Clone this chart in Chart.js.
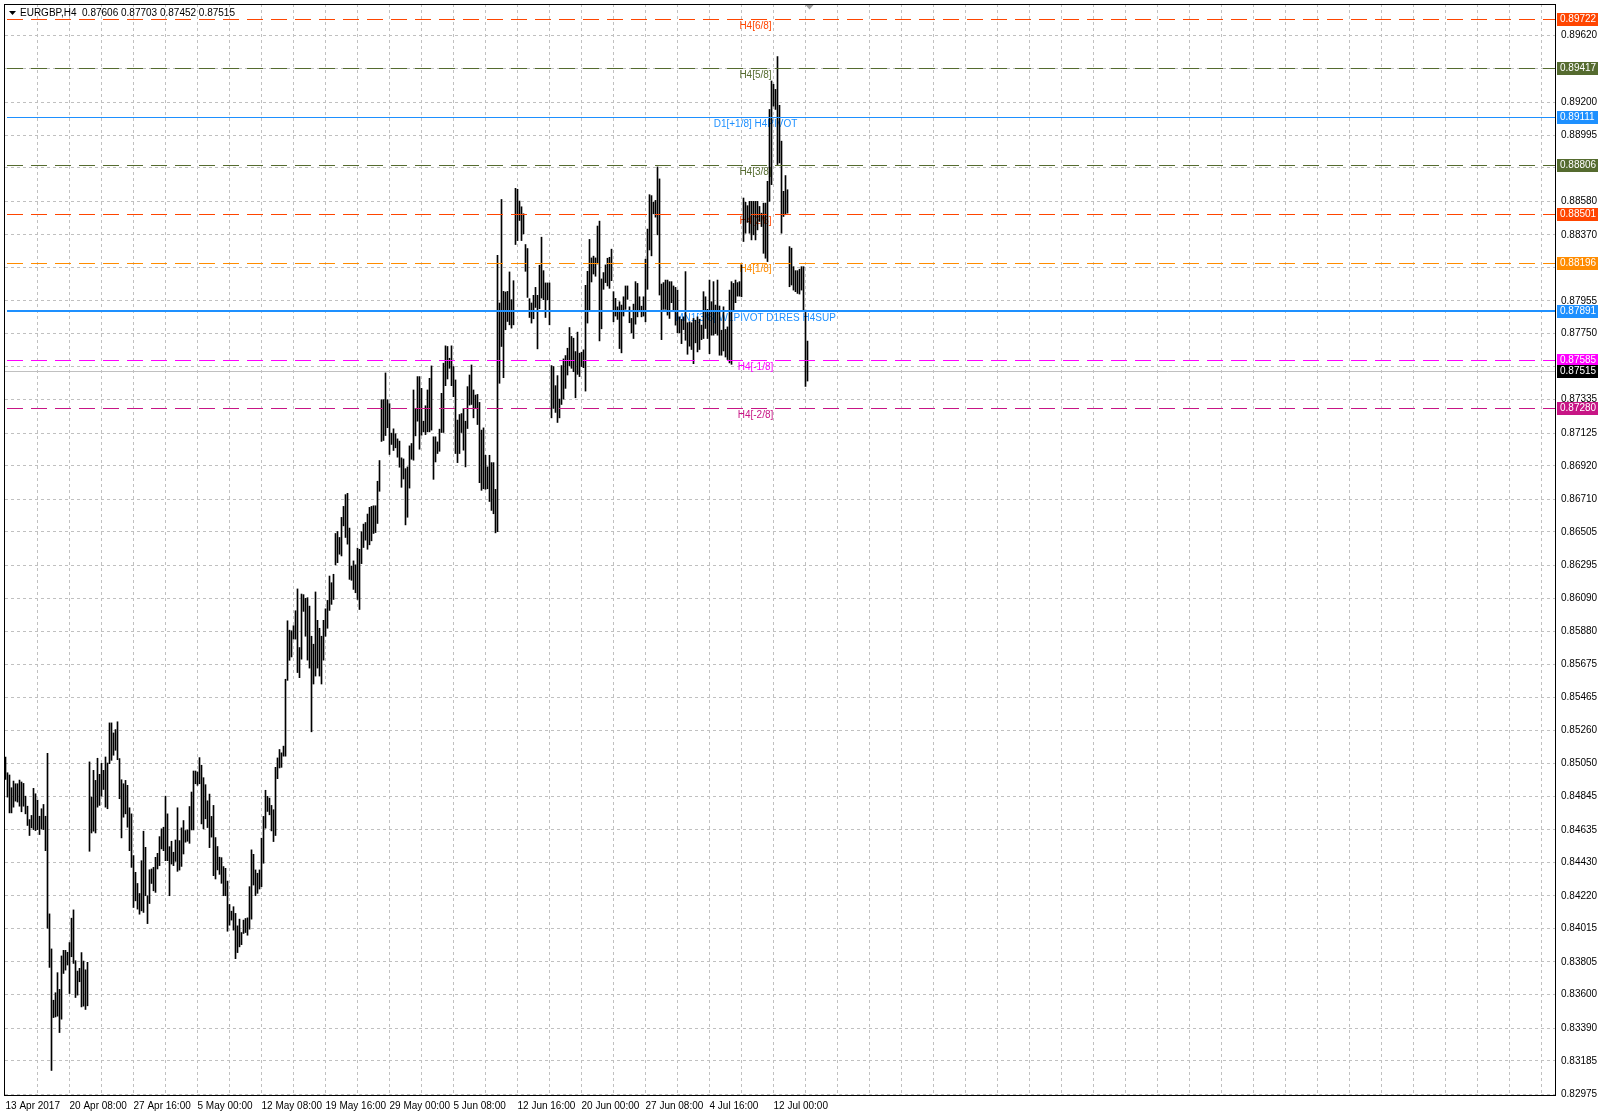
<!DOCTYPE html>
<html><head><meta charset="utf-8">
<script src="https://cdn.jsdelivr.net/npm/chart.js@4.4.1/dist/chart.umd.min.js"></script>
<style>html,body{margin:0;padding:0;background:#fff;overflow:hidden}#wrap{width:1600px;height:1118px}</style>
</head><body><div id="wrap"><canvas id="c" width="1600" height="1118"></canvas></div>
<script>
// ---------- data ----------
const symbolTitle = 'EURGBP,H4';
const lastBarOHLC = ['0.87606', '0.87703', '0.87452', '0.87515'];

const barHighs = [
0.85092,0.84993,0.84979,0.84899,0.84941,0.84924,0.84924,0.84947,0.84935,0.84926,
0.84846,0.84783,0.84699,0.84725,0.84895,0.84861,0.84821,0.84720,0.84767,0.84794,
0.84720,0.85115,0.84107,0.83887,0.83565,0.83612,0.83738,0.83633,0.83843,0.83878,
0.83878,0.83866,0.83927,0.84080,0.84132,0.83813,0.83748,0.83765,0.83864,0.83811,
0.83756,0.83803,0.85061,0.84840,0.85008,0.84945,0.85084,0.84983,0.85052,0.85008,
0.85092,0.85054,0.85306,0.85306,0.85243,0.85264,0.85313,0.85082,0.84949,0.84924,
0.84945,0.84914,0.84773,0.84735,0.84473,0.84368,0.84298,0.84235,0.84441,0.84626,
0.84525,0.84221,0.84384,0.84389,0.84399,0.84462,0.84487,0.84592,0.84641,0.84651,
0.84846,0.84735,0.84529,0.84563,0.84494,0.84571,0.84773,0.84567,0.84647,0.84693,
0.84630,0.84634,0.84781,0.84872,0.85004,0.85004,0.84998,0.85088,0.85040,0.84962,
0.84918,0.84817,0.84859,0.84719,0.84788,0.84586,0.84530,0.84463,0.84460,0.84404,
0.84393,0.84313,0.84166,0.84124,0.84152,0.84110,0.84032,0.84074,0.83990,0.84068,
0.84078,0.84082,0.84278,0.84509,0.84481,0.84383,0.84362,0.84383,0.84582,0.84719,
0.84883,0.84845,0.84834,0.84788,0.84761,0.85027,0.85086,0.85139,0.85118,0.85160,
0.85580,0.85947,0.85888,0.85884,0.85916,0.86010,0.86147,0.85779,0.86115,0.86111,
0.86088,0.86092,0.86039,0.85850,0.85800,0.86128,0.85950,0.85900,0.85850,0.85950,
0.86022,0.86075,0.86228,0.86186,0.86239,0.86495,0.86508,0.86470,0.86596,0.86665,
0.86739,0.86747,0.86529,0.86291,0.86323,0.86298,0.86403,0.86396,0.86506,0.86554,
0.86564,0.86617,0.86659,0.86665,0.86669,0.86669,0.86823,0.86953,0.87335,0.87335,
0.87503,0.87335,0.87310,0.87125,0.87152,0.87121,0.87089,0.87075,0.86970,0.86963,
0.86902,0.86913,0.87045,0.87060,0.87396,0.87280,0.87480,0.87480,0.87406,0.87200,
0.87297,0.87396,0.87469,0.87547,0.87102,0.87102,0.87070,0.87150,0.87375,0.87564,
0.87673,0.87669,0.87595,0.87673,0.87543,0.87459,0.87207,0.87242,0.87248,0.87280,
0.87200,0.87417,0.87490,0.87553,0.87396,0.87364,0.87368,0.87318,0.87144,0.87158,
0.86986,0.86913,0.86986,0.86940,0.86940,0.86772,0.88242,0.87942,0.88592,0.88015,
0.88011,0.88015,0.88137,0.87963,0.88082,0.88662,0.88656,0.88582,0.88546,0.88502,
0.88309,0.88284,0.87969,0.87942,0.87990,0.88040,0.87990,0.88179,0.88355,0.88145,
0.88068,0.88068,0.88068,0.87549,0.87543,0.87423,0.87486,0.87339,0.87549,0.87591,
0.87612,0.87658,0.87788,0.87732,0.87721,0.87637,0.87759,0.87627,0.87633,0.87648,
0.88053,0.88141,0.88341,0.88225,0.88236,0.88225,0.88425,0.88456,0.88093,0.88133,
0.88181,0.88223,0.88229,0.88280,0.88013,0.87971,0.87918,0.87950,0.87929,0.87981,
0.88049,0.88049,0.87918,0.87845,0.87935,0.88076,0.88065,0.87981,0.87922,0.87981,
0.88217,0.88406,0.88622,0.88616,0.88574,0.88586,0.88796,0.88721,0.88061,0.88070,
0.88086,0.88086,0.88076,0.88076,0.88049,0.88040,0.88023,0.87855,0.87839,0.87855,
0.88139,0.87818,0.87824,0.87818,0.87845,0.87834,0.87855,0.87839,0.87803,0.88013,
0.87981,0.87902,0.88086,0.87950,0.88076,0.87929,0.88086,0.87923,0.87771,0.87918,
0.87776,0.87792,0.88023,0.88076,0.88065,0.88086,0.88070,0.88076,0.88181,0.88601,
0.88574,0.88553,0.88580,0.88580,0.88580,0.88580,0.88580,0.88548,0.88506,0.88569,
0.88569,0.88706,0.89157,0.89336,0.89315,0.89283,0.89489,0.89183,0.88958,0.88643,
0.88742,0.88653,0.88296,0.88286,0.88170,0.88145,0.88145,0.88154,0.88170,0.88170,
0.87897,0.87703
];

const barLows = [
0.84951,0.84840,0.84741,0.84741,0.84777,0.84815,0.84809,0.84783,0.84748,0.84783,
0.84735,0.84662,0.84599,0.84647,0.84636,0.84630,0.84636,0.84605,0.84641,0.84636,
0.84504,0.84017,0.83771,0.83124,0.83456,0.83460,0.83465,0.83362,0.83446,0.83733,
0.83754,0.83786,0.83607,0.83838,0.83796,0.83582,0.83597,0.83681,0.83523,0.83528,
0.83507,0.83530,0.84500,0.84615,0.84626,0.84615,0.84777,0.84788,0.84846,0.84888,
0.84777,0.84767,0.85050,0.85071,0.85103,0.85134,0.85075,0.84830,0.84584,0.84714,
0.84735,0.84651,0.84504,0.84399,0.84147,0.84189,0.84137,0.84105,0.84126,0.84116,
0.84221,0.84046,0.84172,0.84298,0.84252,0.84242,0.84389,0.84410,0.84515,0.84504,
0.84441,0.84441,0.84221,0.84420,0.84410,0.84437,0.84374,0.84382,0.84405,0.84483,
0.84557,0.84563,0.84550,0.84634,0.84634,0.84924,0.84914,0.84924,0.84672,0.84641,
0.84704,0.84649,0.84523,0.84589,0.84347,0.84326,0.84383,0.84355,0.84299,0.84221,
0.84221,0.83998,0.84036,0.84068,0.84005,0.83826,0.83864,0.83900,0.83914,0.83984,
0.83990,0.83973,0.84011,0.84074,0.84288,0.84221,0.84236,0.84263,0.84278,0.84425,
0.84645,0.84750,0.84729,0.84628,0.84561,0.84599,0.84956,0.85023,0.85027,0.85097,
0.85097,0.85573,0.85699,0.85720,0.85832,0.85832,0.85622,0.85590,0.85706,0.86006,
0.85850,0.85700,0.85650,0.85250,0.85550,0.85600,0.85650,0.85600,0.85550,0.85700,
0.85850,0.85900,0.86012,0.86050,0.86081,0.86298,0.86312,0.86365,0.86354,0.86543,
0.86470,0.86428,0.86207,0.86201,0.86144,0.86123,0.86081,0.86018,0.86306,0.86407,
0.86453,0.86396,0.86424,0.86449,0.86495,0.86501,0.86558,0.86760,0.87073,0.87079,
0.87110,0.87159,0.86991,0.87054,0.87016,0.87033,0.86974,0.86911,0.86785,0.86837,
0.86549,0.86597,0.86780,0.86961,0.86955,0.87108,0.87200,0.87024,0.87112,0.87133,
0.87116,0.87133,0.87133,0.87144,0.86835,0.86944,0.86997,0.87011,0.87129,0.87129,
0.87423,0.87465,0.87532,0.87423,0.87354,0.86997,0.86940,0.86997,0.87129,0.87018,
0.86913,0.87154,0.87301,0.87305,0.87221,0.87280,0.87179,0.86814,0.86766,0.86776,
0.86772,0.86776,0.86696,0.86640,0.86619,0.86499,0.86507,0.87438,0.87669,0.87473,
0.87774,0.87826,0.87805,0.87784,0.87805,0.88309,0.88334,0.88460,0.88334,0.88376,
0.88141,0.87977,0.87851,0.87816,0.87843,0.87914,0.87654,0.87906,0.87973,0.87963,
0.87851,0.87963,0.87805,0.87221,0.87280,0.87255,0.87192,0.87221,0.87305,0.87339,
0.87406,0.87490,0.87549,0.87532,0.87511,0.87347,0.87494,0.87480,0.87543,0.87536,
0.87389,0.87816,0.87893,0.88074,0.88124,0.88110,0.88187,0.87704,0.87780,0.88028,
0.88070,0.88049,0.88034,0.88082,0.87824,0.87860,0.87839,0.87656,0.87629,0.87860,
0.87902,0.87965,0.87818,0.87755,0.87719,0.87809,0.87855,0.87887,0.87855,0.87860,
0.87824,0.88028,0.88275,0.88238,0.88502,0.88481,0.88370,0.87992,0.87712,0.87902,
0.87902,0.87866,0.87845,0.87944,0.87897,0.87803,0.87755,0.87755,0.87687,0.87775,
0.87708,0.87620,0.87671,0.87650,0.87561,0.87692,0.87635,0.87650,0.87712,0.87719,
0.87782,0.87719,0.87624,0.87740,0.87740,0.87750,0.87740,0.87614,0.87614,0.87641,
0.87603,0.87587,0.87566,0.87557,0.87897,0.87944,0.87985,0.87985,0.87981,0.88328,
0.88380,0.88448,0.88380,0.88338,0.88370,0.88338,0.88401,0.88454,0.88422,0.88254,
0.88223,0.88202,0.88580,0.88685,0.89178,0.89157,0.88811,0.88821,0.88380,0.88485,
0.88496,0.88506,0.88044,0.88055,0.88023,0.88013,0.88002,0.87998,0.88023,0.87887,
0.87418,0.87452
];

// time-axis labels, one every 32 H4 bars starting at bar 0
const dateLabels = ['13 Apr 2017','20 Apr 08:00','27 Apr 16:00','5 May 00:00','12 May 08:00',
  '19 May 16:00','29 May 00:00','5 Jun 08:00','12 Jun 16:00','20 Jun 00:00','27 Jun 08:00',
  '4 Jul 16:00','12 Jul 00:00'];

// price-axis tick labels
const priceTickLabels = ['0.89620','0.89415','0.89200','0.88995','0.88790','0.88580','0.88370',
  '0.88165','0.87955','0.87750','0.87545','0.87335','0.87125','0.86920','0.86710','0.86505',
  '0.86295','0.86090','0.85880','0.85675','0.85465','0.85260','0.85050','0.84845','0.84635',
  '0.84430','0.84220','0.84015','0.83805','0.83600','0.83390','0.83185','0.82975'];

// Murrey / pivot levels
const levelValues = [0.89722, 0.89417, 0.89111, 0.88806, 0.88501, 0.88196, 0.87891, 0.87585, 0.87280];
const levelNames = ['H4[6/8]','H4[5/8]','D1[+1/8] H4PIVOT','H4[3/8]','H4[2/8]','H4[1/8]',
  'MN1[3/8] W1PIVOT D1RES H4SUP','H4[-1/8]','H4[-2/8]'];
const bidPrice = 0.87515;

// ---------- styles ----------
const levelColors = ['#FF4500','#556B2F','#1E90FF','#556B2F','#FF4500','#FF8C00','#1E90FF','#FF00FF','#C71585'];
const levelDashed = [true,true,false,true,true,true,false,true,true];
const levelWidths = [1,1,1,1,1,1,2,1,1];
const levelTextBar = 375;
const FONT = "'Liberation Sans', Arial, sans-serif";

Chart.defaults.font.family = FONT;
Chart.defaults.font.size = 10;
Chart.defaults.color = '#000';

const overlay = {
  id: 'overlay',
  beforeDatasetsDraw(chart) {
    const {ctx, chartArea: a, scales: {x, y}} = chart;
    ctx.save();
    // bid line
    const by = Math.round(y.getPixelForValue(bidPrice)) + 0.5;
    ctx.strokeStyle = '#C0C0C0'; ctx.lineWidth = 1;
    ctx.beginPath(); ctx.moveTo(a.left, by); ctx.lineTo(a.right, by); ctx.stroke();
    // level captions
    ctx.font = '10px ' + FONT; ctx.textAlign = 'center'; ctx.textBaseline = 'middle';
    const cx = x.getPixelForValue(levelTextBar);
    levelValues.forEach((v, k) => {
      ctx.fillStyle = levelColors[k];
      ctx.fillText(levelNames[k], cx, y.getPixelForValue(v) + 7);
    });
    ctx.restore();
  },
  afterDatasetsDraw(chart) {
    const {ctx, chartArea: a, scales: {y}} = chart;
    ctx.save();
    ctx.beginPath(); ctx.rect(a.left, a.top, a.right - a.left, a.bottom - a.top); ctx.clip();
    levelValues.forEach((v, k) => {
      const w = levelWidths[k];
      const py = w % 2 ? Math.round(y.getPixelForValue(v)) + 0.5 : Math.round(y.getPixelForValue(v));
      ctx.strokeStyle = levelColors[k]; ctx.lineWidth = w;
      ctx.setLineDash(levelDashed[k] ? [16, 8] : []);
      ctx.beginPath(); ctx.moveTo(a.left + 2, py); ctx.lineTo(a.right, py); ctx.stroke();
    });
    ctx.restore();
  },
  afterDraw(chart) {
    const {ctx, chartArea: a, scales: {x, y}} = chart;
    ctx.save();
    // frame
    ctx.strokeStyle = '#000'; ctx.lineWidth = 1;
    ctx.strokeRect(a.left - 0.5, a.top + 0.5, a.right - a.left + 1, a.bottom - a.top);
    // right-side price boxes
    ctx.font = '10px ' + FONT; ctx.textAlign = 'left'; ctx.textBaseline = 'middle';
    const boxes = levelValues.map((v, k) => [v, levelColors[k]]).concat([[bidPrice, '#000000']]);
    boxes.forEach(([v, col]) => {
      const py = Math.round(y.getPixelForValue(v));
      ctx.fillStyle = col;
      ctx.fillRect(a.right + 2, py - 6, 41, 13);
      ctx.fillStyle = '#fff';
      ctx.fillText(v.toFixed(5), a.right + 5, py + 0.5);
    });
    // header
    ctx.fillStyle = '#000';
    ctx.beginPath(); ctx.moveTo(9, 11); ctx.lineTo(16, 11); ctx.lineTo(12.5, 15); ctx.closePath(); ctx.fill();
    ctx.fillText(symbolTitle + '  ' + lastBarOHLC.join(' '), 20, 13);
    // chart shift marker
    const sx = x.getPixelForValue(barHighs.length - 1) + 2;
    ctx.fillStyle = '#A0A0A0';
    ctx.beginPath(); ctx.moveTo(sx - 4, 5); ctx.lineTo(sx + 4, 5); ctx.lineTo(sx, 9.5); ctx.closePath(); ctx.fill();
    ctx.restore();
  }
};

const bars = barHighs.map((h, i) => ({x: i, y: [barLows[i], h]}));

new Chart(document.getElementById('c'), {
  type: 'bar',
  data: {datasets: [{data: bars, backgroundColor: '#000', borderWidth: 0, barThickness: 1, grouped: false}]},
  options: {
    responsive: false, animation: false, devicePixelRatio: 1,
    layout: {padding: {left: 5, top: 4, right: 0, bottom: 0}},
    plugins: {legend: {display: false}, tooltip: {enabled: false}, title: {display: false}},
    scales: {
      x: {
        type: 'linear', min: -0.25, max: 774.75, offset: false,
        afterBuildTicks: s => { const t = []; for (let v = 0; v <= 768; v += 16) t.push({value: v}); s.ticks = t; },
        afterFit: s => { s.height = 23; s.paddingLeft = 0; s.paddingRight = 0; },
        ticks: {autoSkip: false, maxRotation: 0, minRotation: 0, align: 'start', padding: 5, color: '#000',
          callback: v => (v % 32 === 0 && dateLabels[v / 32]) ? dateLabels[v / 32] : ''},
        grid: {color: c => (c.tick && c.tick.value === 0) ? 'rgba(0,0,0,0)' : '#C0C0C0', drawTicks: false, offset: false, lineWidth: 1},
        border: {display: true, color: '#000', dash: [3, 3]}
      },
      y: {
        position: 'right', min: 0.82970, max: 0.89819,
        afterBuildTicks: s => { s.ticks = priceTickLabels.map(t => ({value: parseFloat(t)})); },
        afterFit: s => { s.width = 45; s.paddingTop = 0; s.paddingBottom = 0; },
        ticks: {autoSkip: false, padding: 6, color: '#000', callback: v => v.toFixed(5)},
        grid: {color: '#C0C0C0', drawTicks: false, lineWidth: 1},
        border: {display: true, color: '#000', dash: [3, 3]}
      }
    }
  },
  plugins: [overlay]
});
</script>
</body></html>
